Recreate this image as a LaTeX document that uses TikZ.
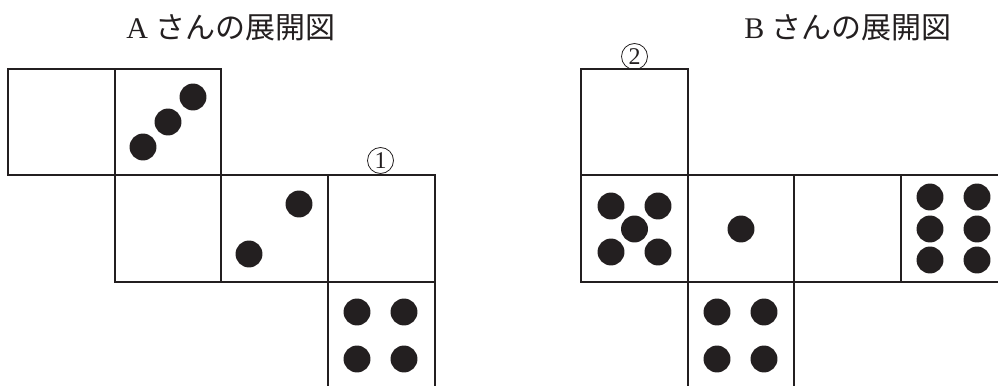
\documentclass[tikz,border=0pt]{standalone}
\usepackage{fontspec}
\setmainfont{Liberation Serif}
\newfontfamily\jp{Noto Sans CJK JP}
\definecolor{ink}{HTML}{231F20}
\begin{document}
\begin{tikzpicture}[x=0.75pt,y=-0.75pt,
  face/.style={draw=ink,line width=1.5pt,line join=miter},
  pip/.style={fill=ink},
  ttl/.style={font=\fontsize{22.5pt}{26pt}\selectfont,text=ink,inner sep=0pt,anchor=center},
  lbl/.style={circle,draw=ink,line width=0.6pt,minimum size=19.5pt,inner sep=0pt,
    font=\fontsize{18pt}{20pt}\selectfont,text=ink,anchor=center}]
\useasboundingbox (0,0) rectangle (998,385);
\clip (0,0) rectangle (998,385);
% titles
\node[ttl] (titleA) at (231,28) {A {\jp さんの展開図}};
\node[ttl] (titleB) at (848,28) {B {\jp さんの展開図}};
% net A
\draw[face] (8,69) rectangle (115,175);
\draw[face] (115,69) rectangle (221,175);
\draw[face] (115,175) rectangle (221,282);
\draw[face] (221,175) rectangle (328,282);
\draw[face] (328,175) rectangle (435,282);
\draw[face] (328,282) rectangle (435,389);
\node[lbl] (one) at (380.5,160.5) {1};
% pips A
\foreach \p in {(143,147),(168,122),(193,97),
                (299,204),(249,254),
                (357,312),(404,312),(357,359),(404,359)}
  \fill[pip] \p circle[radius=10.1pt];
% net B
\draw[face] (581,69) rectangle (688,175);
\draw[face] (581,175) rectangle (688,282);
\draw[face] (688,175) rectangle (794,282);
\draw[face] (794,175) rectangle (901,282);
\draw[face] (901,175) rectangle (1008,282);
\draw[face] (688,282) rectangle (794,389);
\node[lbl] (two) at (634.5,56.5) {2};
% pips B
\foreach \p in {(611,206),(658,206),(634.5,229),(611,252),(658,252),
                (741,229),
                (930,197),(977,197),(930,229),(977,229),(930,260),(977,260),
                (717,312),(764,312),(717,359),(764,359)}
  \fill[pip] \p circle[radius=10.1pt];
\end{tikzpicture}
\end{document}
